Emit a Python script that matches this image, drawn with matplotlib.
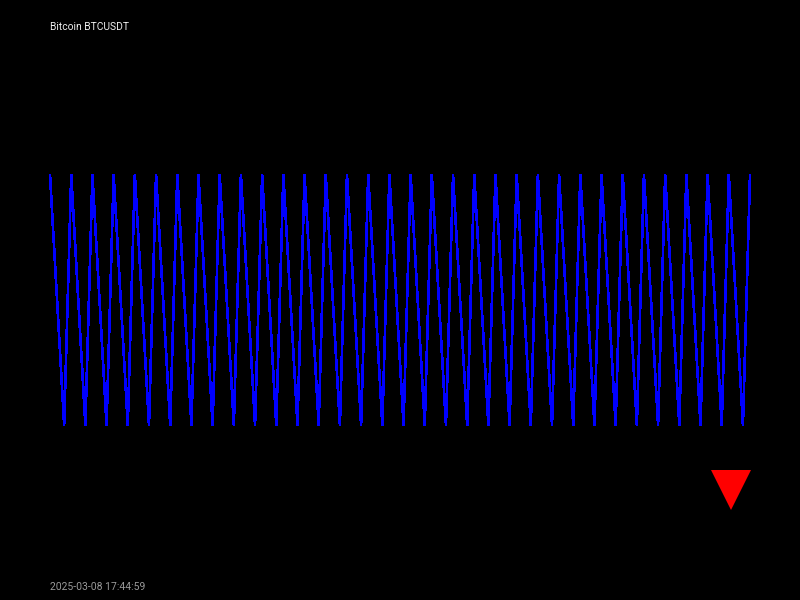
import numpy as np
import matplotlib
matplotlib.use('Agg')
import matplotlib.pyplot as plt
from matplotlib.lines import Line2D

symbol_title = 'Bitcoin BTCUSDT'
timestamp = '2025-03-08 17:44:59'
trend = 'down'

# last 100 ticks of the price feed
prices = [
    86250.0, 86200.0, 86150.0, 86250.0, 86200.0, 86150.0, 86250.0, 86200.0, 86150.0, 86250.0,
    86200.0, 86150.0, 86250.0, 86200.0, 86150.0, 86250.0, 86200.0, 86150.0, 86250.0, 86200.0,
    86150.0, 86250.0, 86200.0, 86150.0, 86250.0, 86200.0, 86150.0, 86250.0, 86200.0, 86150.0,
    86250.0, 86200.0, 86150.0, 86250.0, 86200.0, 86150.0, 86250.0, 86200.0, 86150.0, 86250.0,
    86200.0, 86150.0, 86250.0, 86200.0, 86150.0, 86250.0, 86200.0, 86150.0, 86250.0, 86200.0,
    86150.0, 86250.0, 86200.0, 86150.0, 86250.0, 86200.0, 86150.0, 86250.0, 86200.0, 86150.0,
    86250.0, 86200.0, 86150.0, 86250.0, 86200.0, 86150.0, 86250.0, 86200.0, 86150.0, 86250.0,
    86200.0, 86150.0, 86250.0, 86200.0, 86150.0, 86250.0, 86200.0, 86150.0, 86250.0, 86200.0,
    86150.0, 86250.0, 86200.0, 86150.0, 86250.0, 86200.0, 86150.0, 86250.0, 86200.0, 86150.0,
    86250.0, 86200.0, 86150.0, 86250.0, 86200.0, 86150.0, 86250.0, 86200.0, 86150.0, 86250.0,
]

plt.rcParams['font.family'] = ['Roboto', 'DejaVu Sans']

fig = plt.figure(figsize=(8, 6), dpi=100, facecolor='black')

# price area: 50..750 px wide, 175..425 px from top
ax = fig.add_axes([50 / 800, 175 / 600, 700 / 800, 250 / 600])
ax.set_facecolor('black')
ticks = np.arange(len(prices))
ax.plot(ticks, prices, color='#0000ff', linewidth=1.2, antialiased=False,
        clip_on=False, solid_joinstyle='bevel')
ax.set_xlim(0, len(prices) - 1)
ax.set_ylim(min(prices), max(prices))
ax.axis('off')

fig.text(50 / 800, 1 - 29.5 / 600, symbol_title, color='#eeeeee', fontsize=7.4,
         ha='left', va='baseline')
fig.text(50 / 800, 10.5 / 600, timestamp, color='#999999', fontsize=7.5,
         ha='left', va='baseline')

# direction arrow
marker = 'v' if trend == 'down' else '^'
arrow_color = 'red' if trend == 'down' else 'lime'
fig.add_artist(Line2D([730.5 / 800], [1 - 490 / 600], marker=marker,
                      markersize=29, color=arrow_color, markeredgewidth=0,
                      linestyle='none', transform=fig.transFigure))

fig.savefig('out.png', dpi=100, facecolor='black')
